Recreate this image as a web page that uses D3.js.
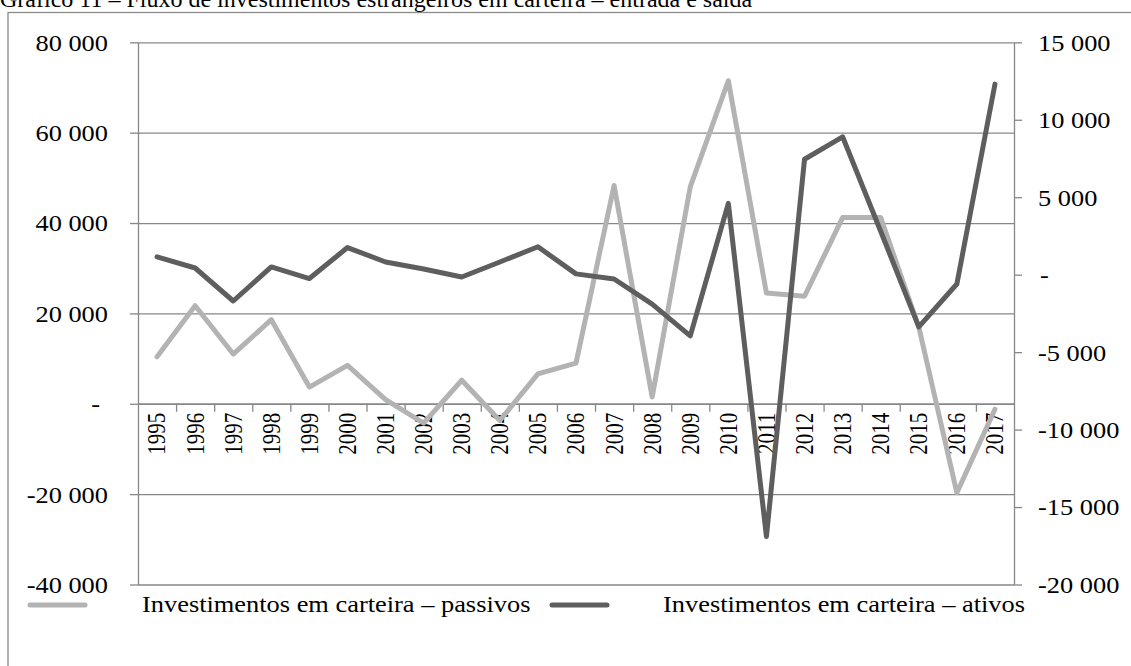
<!DOCTYPE html>
<html>
<head>
<meta charset="utf-8">
<script src="https://cdn.jsdelivr.net/npm/d3@7/dist/d3.min.js"></script>
<style>
  html, body { margin: 0; padding: 0; background: #fff; }
  svg { display: block; }
  text { font-family: "Liberation Serif", "Times New Roman", serif; fill: #000; }
</style>
</head>
<body>
<svg id="chart" width="1131" height="666"></svg>
<script>
// ---- data ----
const titleText = "Gráfico 11 – Fluxo de investimentos estrangeiros em carteira – entrada e saída";
const years = ["1995","1996","1997","1998","1999","2000","2001","2002","2003","2004","2005","2006",
               "2007","2008","2009","2010","2011","2012","2013","2014","2015","2016","2017"];
const seriesNames = ["Investimentos em carteira – passivos", "Investimentos em carteira – ativos"];
// left axis series
const passivos = [10400, 21700, 11000, 18600, 3700, 8500, 900, -4300, 5200, -3700, 6600, 9000,
                  48300, 1500, 48000, 71500, 24500, 23800, 41200, 41200, 17000, -19700, -1200];
// right axis series
const ativos = [1150, 430, -1700, 500, -250, 1750, 820, 370, -150, 820, 1800, 50,
                -280, -1900, -3950, 4600, -16900, 7450, 8900, 2800, -3370, -600, 12300];
const leftTicks = [-40000, -20000, 0, 20000, 40000, 60000, 80000];
const rightTicks = [-20000, -15000, -10000, -5000, 0, 5000, 10000, 15000];

// ---- layout ----
const svg = d3.select("#chart");
const L = 138, R = 1014, T = 42.3, B = 584.5;
const gridColor = "#878787";
const lightColor = "#b3b3b3", darkColor = "#5e5e5e";
const SX = 1.1; // horizontal stretch of the text in the reference

const x = d3.scaleBand().domain(years).range([L, R]).padding(0);
const yL = d3.scaleLinear().domain([-40000, 80000]).range([B, T]);
const yR = d3.scaleLinear().domain([-20000, 15000]).range([B, T]);

const loc = d3.formatLocale({decimal: ",", thousands: " ", grouping: [3], currency: ["", ""], minus: "-"});
const fmtN = loc.format(",.0f");
const fmt = v => v === 0 ? "-" : fmtN(v);

// outer frame
svg.append("rect").attr("x", 8).attr("y", 12.5).attr("width", 1200).attr("height", 700)
  .attr("fill", "none").attr("stroke", "#8a8a8a").attr("stroke-width", 1.3);

// title
svg.append("text").attr("x", 0).attr("y", 7)
  .attr("font-size", 24).text(titleText);

// gridlines
svg.append("g").attr("transform", `translate(${L},0)`)
  .call(d3.axisLeft(yL).tickValues(leftTicks).tickSize(-(R - L)).tickFormat(""))
  .call(g => g.select(".domain").remove())
  .call(g => g.selectAll("line").attr("stroke", gridColor).attr("stroke-width", 1.3));

// left axis
const gl = svg.append("g").attr("transform", `translate(${L},0)`)
  .call(d3.axisLeft(yL).tickValues(leftTicks).tickSize(8).tickFormat(fmt).tickSizeOuter(0));
gl.select(".domain").attr("stroke", gridColor).attr("stroke-width", 1.3);
gl.selectAll(".tick line").attr("stroke", gridColor).attr("stroke-width", 1.3);
gl.selectAll(".tick text")
  .attr("font-size", 24).attr("fill", "#000")
  .attr("x", d => (d === 0 ? -38 : -30) / 1.1)
  .attr("dy", "0.33em")
  .attr("text-anchor", "end")
  .attr("transform", "scale(1.1,1)");

// right axis
const gr = svg.append("g").attr("transform", `translate(${R},0)`)
  .call(d3.axisRight(yR).tickValues(rightTicks).tickSize(8).tickFormat(fmt).tickSizeOuter(0));
gr.select(".domain").attr("stroke", gridColor).attr("stroke-width", 1.3);
gr.selectAll(".tick line").attr("stroke", gridColor).attr("stroke-width", 1.3);
gr.selectAll(".tick text")
  .attr("font-size", 24).attr("fill", "#000")
  .attr("x", d => (d === 0 ? 26 : 24) / 1.1)
  .attr("dy", "0.33em")
  .attr("text-anchor", "start")
  .attr("transform", "scale(1.1,1)");

// category axis at zero (ticks between categories)
const y0 = yL(0);
const xb = d3.scaleLinear().domain([0, years.length]).range([L, R]);
const gx = svg.append("g").attr("transform", `translate(0,${y0})`)
  .call(d3.axisBottom(xb).tickValues(d3.range(1, years.length)).tickSize(8).tickFormat("").tickSizeOuter(0));
gx.select(".domain").attr("stroke", gridColor).attr("stroke-width", 1.3);
gx.selectAll(".tick line").attr("stroke", gridColor).attr("stroke-width", 1.3);

// category labels
const gxl = svg.append("g").attr("transform", `translate(0,${y0})`)
  .call(d3.axisBottom(x).tickSize(0).tickSizeOuter(0));
gxl.select(".domain").remove();
gxl.selectAll(".tick text")
  .attr("font-size", 21).attr("fill", "#000")
  .attr("x", 0).attr("y", 0).attr("dy", "0.34em")
  .attr("text-anchor", "end")
  .attr("transform", "translate(0,9) scale(1.18,1) rotate(-90)");

// lines
const cx = d => x(d) + x.bandwidth() / 2;
const lineL = d3.line().x((d, i) => cx(years[i])).y(d => yL(d));
const lineR = d3.line().x((d, i) => cx(years[i])).y(d => yR(d));
svg.append("path").datum(passivos).attr("d", lineL)
  .attr("fill", "none").attr("stroke", lightColor).attr("stroke-width", 5)
  .attr("stroke-linejoin", "round").attr("stroke-linecap", "round");
svg.append("path").datum(ativos).attr("d", lineR)
  .attr("fill", "none").attr("stroke", darkColor).attr("stroke-width", 5)
  .attr("stroke-linejoin", "round").attr("stroke-linecap", "round");

// legend
const legendItems = [
  {name: seriesNames[0], color: lightColor, x0: 30, x1: 85, tx: 142},
  {name: seriesNames[1], color: darkColor, x0: 552, x1: 607, tx: 663}
];
const lg = svg.append("g");
legendItems.forEach(it => {
  lg.append("line").attr("x1", it.x0).attr("x2", it.x1).attr("y1", 605).attr("y2", 605)
    .attr("stroke", it.color).attr("stroke-width", 5).attr("stroke-linecap", "round");
  lg.append("text").attr("x", it.tx / SX).attr("y", 612)
    .attr("font-size", 24).attr("transform", `scale(${SX},1)`).text(it.name);
});
</script>
</body>
</html>
